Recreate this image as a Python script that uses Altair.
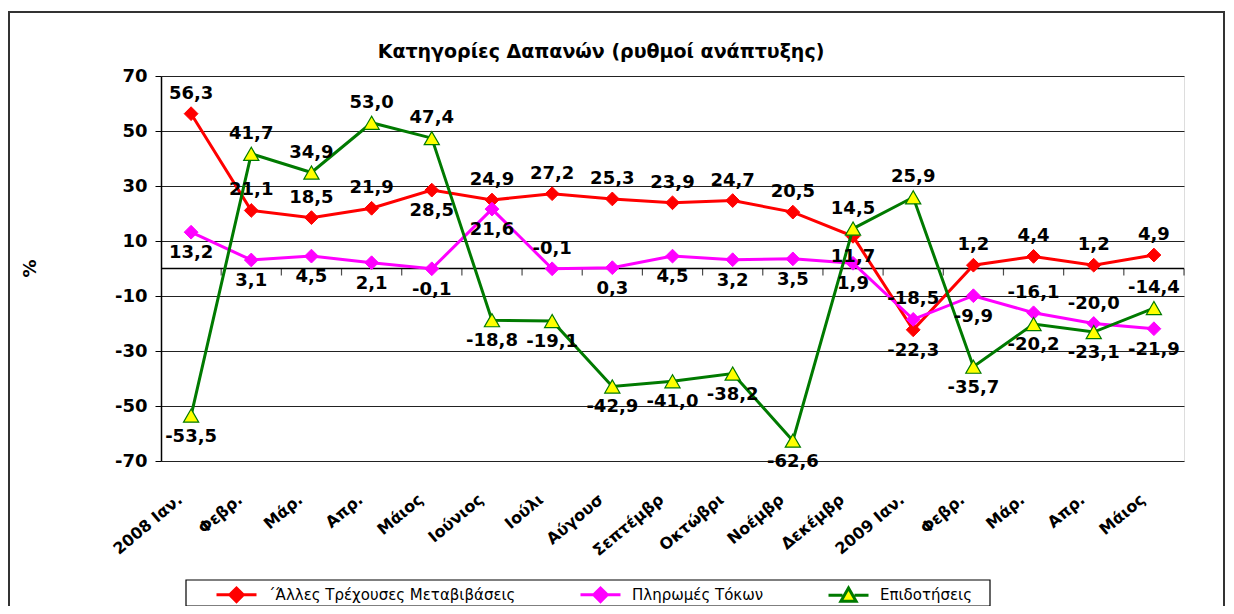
import json
import altair as alt
import pandas as pd

# ---- data ----
months = ["2008 Ιαν.", "Φεβρ.", "Μάρ.", "Απρ.", "Μάιος", "Ιούνιος", "Ιούλι", "Αύγουσ",
          "Σεπτέμβρ", "Οκτώβρι", "Νοέμβρ", "Δεκέμβρ", "2009 Ιαν.", "Φεβρ.", "Μάρ.", "Απρ.", "Μάιος"]
series_names = ["΄Άλλες Τρέχουσες Μεταβιβάσεις", "Πληρωμές Τόκων", "Επιδοτήσεις"]
other_transfers = [56.3, 21.1, 18.5, 21.9, 28.5, 24.9, 27.2, 25.3, 23.9, 24.7, 20.5, 11.7,
                   -22.3, 1.2, 4.4, 1.2, 4.9]
interest = [13.2, 3.1, 4.5, 2.1, -0.1, 21.6, -0.1, 0.3, 4.5, 3.2, 3.5, 1.9,
            -18.5, -9.9, -16.1, -20.0, -21.9]
subsidies = [-53.5, 41.7, 34.9, 53.0, 47.4, -18.8, -19.1, -42.9, -41.0, -38.2, -62.6, 14.5,
             25.9, -35.7, -20.2, -23.1, -14.4]
y_ticks = [-70, -50, -30, -10, 10, 30, 50, 70]
title_text = "Κατηγορίες Δαπανών (ρυθμοί ανάπτυξης)"

values = [other_transfers, interest, subsidies]
rows = []
for i in range(len(months)):
    month_vals = [vals[i] for vals in values]
    order = sorted(range(3), key=lambda k: -month_vals[k])
    top, mid, bot = order
    for k, s in enumerate(series_names):
        v = month_vals[k]
        if k == top:
            pos = "above"
        elif k == bot:
            pos = "below"
        else:
            gap_top = month_vals[top] - v
            gap_bot = v - month_vals[bot]
            pos = "above" if gap_bot < gap_top else "below"
        rows.append({"i": i, "series": s, "v": v, "pos": pos})
df = pd.DataFrame(rows)
df_months = pd.DataFrame({"i": list(range(len(months)))})

W, H = 1023, 385
FONT = "DejaVu Sans"
line_colors = ["#ff0000", "#ff00ff", "#007a00"]
fill_colors = ["#ff0000", "#ff00ff", "#ffff00"]

label_expr = json.dumps(months, ensure_ascii=False) + "[datum.value]"
x_scale = alt.Scale(type="band", paddingInner=0, paddingOuter=0)
x_axis = alt.Axis(title=None, domain=False, ticks=False, tickSize=0, grid=False,
                  labelAngle=-40, labelAlign="right", labelBaseline="middle",
                  labelPadding=36, labelOffset=-11, labelFont=FONT, labelFontSize=16,
                  labelFontWeight="bold", labelColor="black", labelExpr=label_expr)
y_scale = alt.Scale(domain=[-70, 70], nice=False, zero=False)
y_axis = alt.Axis(values=y_ticks, title="%", titleX=-122, titleY=192, titleFont=FONT,
                  titleFontSize=18, titleFontWeight="bold", titleColor="black",
                  labelFont=FONT, labelFontSize=18, labelFontWeight="bold", labelColor="black",
                  labelExpr="datum.value + ''", labelPadding=8, tickSize=6, tickColor="black",
                  domainColor="black", domainWidth=1.5, grid=True, gridColor="#222222",
                  gridWidth=1)

X = alt.X("i:O", scale=x_scale, axis=x_axis, bandPosition=0.5)
Y = alt.Y("v:Q", scale=y_scale, axis=y_axis)

one = alt.Data(values=[{"t": title_text}])

frame = alt.Chart(one).mark_rect(fill="transparent", stroke="#333333", strokeWidth=2).encode(
    x=alt.value(-152), x2=alt.value(1063), y=alt.value(-64), y2=alt.value(600))

title = alt.Chart(one).mark_text(font=FONT, fontSize=19, fontWeight="bold", color="black",
                                 align="center", baseline="middle").encode(
    x=alt.value(440), y=alt.value(-24), text="t:N")

legend_box = alt.Chart(one).mark_rect(fill="white", stroke="black", strokeWidth=1.2).encode(
    x=alt.value(25), x2=alt.value(829), y=alt.value(504), y2=alt.value(530))

zero_rule = alt.Chart(pd.DataFrame({"v": [0]})).mark_rule(color="black", strokeWidth=1.5).encode(
    y=Y, x=alt.value(0), x2=alt.value(W))

zero_ticks = alt.Chart(df_months).mark_tick(orient="vertical", size=7, thickness=1.2,
                                             color="black", yOffset=3.5).encode(
    x=alt.X("i:O", scale=x_scale, axis=x_axis, bandPosition=1), y=alt.datum(0))

layers = [frame, title, legend_box, zero_rule, zero_ticks]

for k, s in enumerate(series_names):
    base = alt.Chart(df).transform_filter(alt.datum.series == s)
    line = base.mark_line(color=line_colors[k], strokeWidth=3).encode(x=X, y=Y)
    if k < 2:
        pts = base.mark_point(shape="diamond", filled=True, fill=fill_colors[k],
                              stroke=line_colors[k], strokeWidth=1, size=190,
                              opacity=1).encode(x=X, y=Y)
    else:
        pts = base.mark_point(shape="triangle-up", filled=True, fill=fill_colors[k],
                              stroke=line_colors[k], strokeWidth=1.2, size=230,
                              opacity=1).encode(x=X, y=Y)
    layers += [line, pts]

label_calc = "replace(replace(format(datum.v, '.1f'), '.', ','), '\u2212', '-')"
for pos, dy in [("above", -20), ("below", 21)]:
    txt = alt.Chart(df).transform_filter(alt.datum.pos == pos).transform_calculate(
        lbl=label_calc).mark_text(font=FONT, fontSize=18, fontWeight="bold", color="black",
                                  align="center", baseline="middle", dy=dy).encode(
        x=X, y=Y, text="lbl:N")
    layers.append(txt)

# legend (driven by the series scales)
sym_diamond = "M-1,0L-0.3,0M0.3,0L1,0M-0.34,0L0,-0.34L0.34,0L0,0.34Z"
sym_triangle = "M-1,0L-0.3,0M0.3,0L1,0M0,-0.36L0.38,0.3L-0.38,0.3Z"
leg = alt.Legend(title=None, orient="none", legendX=54, legendY=497, direction="horizontal",
                 symbolSize=1600, symbolStrokeWidth=3, labelFont=FONT, labelFontSize=15,
                 labelColor="black", labelOffset=10, columnPadding=58, padding=0,
                 labelLimit=500, symbolOpacity=1)
legend_layer = alt.Chart(df).transform_filter("datum.v > 1000").mark_point(
    filled=True, strokeWidth=3).encode(
    shape=alt.Shape("series:N", scale=alt.Scale(domain=series_names,
                                                range=[sym_diamond, sym_diamond, sym_triangle]),
                    legend=leg),
    fill=alt.Fill("series:N", scale=alt.Scale(domain=series_names, range=fill_colors), legend=leg),
    stroke=alt.Stroke("series:N", scale=alt.Scale(domain=series_names, range=line_colors),
                      legend=leg),
)
layers.append(legend_layer)

chart = alt.layer(*layers).properties(
    width=W, height=H,
    autosize=alt.AutoSizeParams(type="none"),
    padding={"left": 153, "top": 68, "right": 42, "bottom": 145},
).configure_view(stroke=None).configure(background="white")

chart.save("out.html", embed_options={"renderer": "svg", "actions": False})
